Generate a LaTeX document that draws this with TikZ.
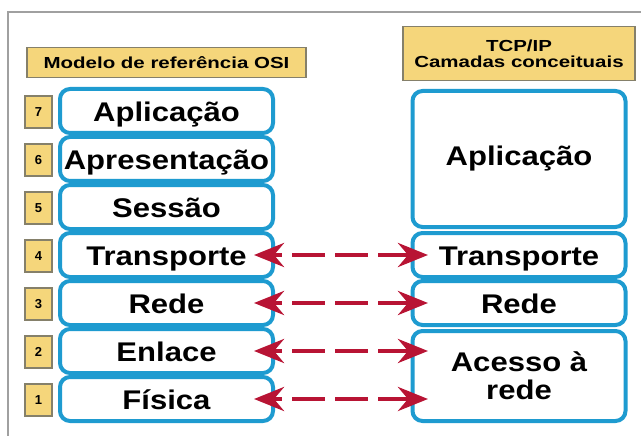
\documentclass[tikz,border=0pt]{standalone}
\usepackage{fontspec}
\setmainfont{Liberation Sans}
\newfontfamily\layerfont{Liberation Sans}[FakeStretch=1.15]
\newfontfamily\headfont{Liberation Sans}[FakeStretch=1.28]
\usetikzlibrary{arrows.meta,positioning}
\definecolor{layerblue}{HTML}{1E9BD0}
\definecolor{tagyellow}{HTML}{F5D67B}
\definecolor{tagedge}{HTML}{85806A}
\definecolor{linkred}{HTML}{B81434}
\definecolor{framegray}{HTML}{A0A0A0}
\begin{document}
\begin{tikzpicture}[
  x=1pt, y=-1pt,
  layer/.style={rectangle, rounded corners=10pt, draw=layerblue, line width=4pt, fill=white,
    minimum width=213pt, minimum height=44pt, inner sep=0pt, align=center,
    font=\layerfont\bfseries\fontsize{27}{28}\selectfont},
  oneline/.style={layer, text height=23pt, text depth=2pt},
  tag/.style={rectangle, draw=tagedge, line width=1.5pt, fill=tagyellow, inner sep=0pt, align=center},
  head/.style={tag, font=\headfont\bfseries\fontsize{16}{16}\selectfont},
  num/.style={tag, minimum width=27pt, minimum height=32pt, font=\bfseries\fontsize{13}{13}\selectfont},
  link/.style={{Stealth[length=30pt,width=24pt,inset=10pt]}-{Stealth[length=30pt,width=24pt,inset=10pt]},
    draw=linkred, line width=4.5pt, dash pattern=on 33pt off 10pt, dash phase=23pt,
    shorten <=-21pt, shorten >=-17.5pt},
  node distance=48pt
]
\useasboundingbox (0,0) rectangle (641,436);
\draw[framegray, line width=2pt] (8,436) -- (8,12) -- (641,12);

\node[oneline] (osi7) at (166.5,111) {Aplicação};
\node[oneline, below of=osi7] (osi6) {Apresentação};
\node[oneline, below of=osi6] (osi5) {Sessão};
\node[oneline, below of=osi5] (osi4) {Transporte};
\node[oneline, below of=osi4] (osi3) {Rede};
\node[oneline, below of=osi3] (osi2) {Enlace};
\node[oneline, below of=osi2] (osi1) {Física};

\foreach \n in {7,...,1}
  \node[num, left of=osi\n, node distance=128pt, yshift=-1pt] (num\n) {\n};

\node[head, minimum width=279pt, minimum height=30pt, above of=osi7, node distance=48.5pt] (osihead) {Modelo de referência OSI};

\node[oneline, right of=osi4, node distance=352.5pt] (tcp4) {Transporte};
\node[oneline, right of=osi3, node distance=352.5pt] (tcp3) {Rede};
\node[layer, minimum height=136pt, above of=tcp4, node distance=96pt] (tcpapp) {Aplicação};
\node[layer, minimum height=90pt, below of=tcp3, node distance=73pt] (tcp21) {Acesso à\\rede};
\node[head, minimum width=232pt, minimum height=54pt, above of=tcpapp, node distance=105.5pt] (tcphead) {TCP/IP\\Camadas conceituais};

\draw[link] (osi4) -- (tcp4);
\draw[link] (osi3) -- (tcp3);
\draw[link] (osi2) -- (osi2 -| tcp21.west);
\draw[link] (osi1) -- (osi1 -| tcp21.west);
\end{tikzpicture}
\end{document}
